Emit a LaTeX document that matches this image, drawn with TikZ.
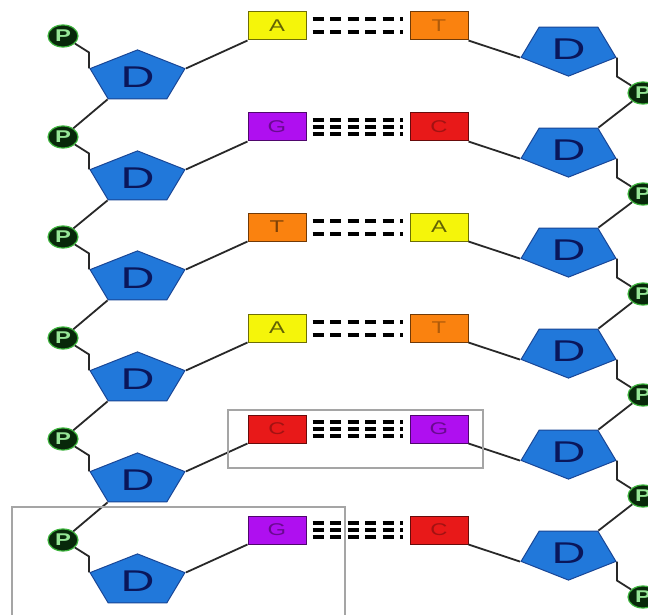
\documentclass[tikz,border=0pt]{standalone}
\usepackage{fontspec}
\newfontfamily\sansf{Liberation Sans}
\usepackage{tikz}
\usetikzlibrary{shapes.geometric, positioning, calc}
\usepackage{xcolor}

\definecolor{sugarblue}{RGB}{33,120,218}
\definecolor{sugaredge}{RGB}{25,70,150}
\definecolor{sugartext}{RGB}{10,22,90}
\definecolor{phosfill}{RGB}{8,40,10}
\definecolor{phosedge}{RGB}{60,180,60}
\definecolor{phostext}{RGB}{150,230,150}
\definecolor{baseY}{RGB}{245,245,10}
\definecolor{baseO}{RGB}{250,130,15}
\definecolor{baseP}{RGB}{175,15,240}
\definecolor{baseR}{RGB}{232,25,25}
\definecolor{framegray}{RGB}{165,165,165}
\definecolor{bondgray}{RGB}{40,40,40}

\newcommand{\wide}[1]{\scalebox{1.4}[1]{#1}}

\tikzset{
  sugar/.style={regular polygon, regular polygon sides=5, minimum size=54.2pt, inner sep=0pt,
    xscale=1.84, transform shape, fill=sugarblue, draw=sugaredge, line width=1pt,
    text=sugartext, font=\sansf\fontsize{30}{30}\selectfont},
  sugarR/.style={sugar, shape border rotate=180},
  phos/.style={ellipse, minimum width=30pt, minimum height=22pt, inner sep=0pt,
    fill=phosfill, draw=phosedge, line width=1.2pt, text=phostext,
    font=\sansf\bfseries\fontsize{17}{17}\selectfont},
  base/.style={rectangle, minimum width=58pt, minimum height=28pt, inner sep=0pt,
    fill=#1, draw=#1!45!black, line width=1pt, font=\sansf\fontsize{17}{17}\selectfont},
  bond/.style={draw=bondgray, line width=1.8pt},
  hbond/.style={draw=black, line width=4pt, dash pattern=on 11pt off 6.5pt},
  frame/.style={draw=framegray, line width=2pt}
}

\begin{document}
\begin{tikzpicture}[x=1pt, y=-1pt]
      \clip (0,0) rectangle (648,615);
      \fill[white] (0,0) rectangle (648,615);

      % left strand
      \node[phos] (LP1) at (63, 36) {\wide{P}};
      \node[phos] (LP2) at (63, 137) {\wide{P}};
      \node[phos] (LP3) at (63, 237) {\wide{P}};
      \node[phos] (LP4) at (63, 338) {\wide{P}};
      \node[phos] (LP5) at (63, 439) {\wide{P}};
      \node[phos] (LP6) at (63, 540) {\wide{P}};
      \node[sugar] (LD1) at (137.5, 77) {\scalebox{0.85}[1]{D}};
      \node[sugar] (LD2) at (137.5, 178) {\scalebox{0.85}[1]{D}};
      \node[sugar] (LD3) at (137.5, 278) {\scalebox{0.85}[1]{D}};
      \node[sugar] (LD4) at (137.5, 379) {\scalebox{0.85}[1]{D}};
      \node[sugar] (LD5) at (137.5, 480) {\scalebox{0.85}[1]{D}};
      \node[sugar] (LD6) at (137.5, 581) {\scalebox{0.85}[1]{D}};

      % right strand
      \node[sugarR] (RD1) at (568.5, 49) {\scalebox{0.85}[1]{D}};
      \node[sugarR] (RD2) at (568.5, 150) {\scalebox{0.85}[1]{D}};
      \node[sugarR] (RD3) at (568.5, 250) {\scalebox{0.85}[1]{D}};
      \node[sugarR] (RD4) at (568.5, 351) {\scalebox{0.85}[1]{D}};
      \node[sugarR] (RD5) at (568.5, 452) {\scalebox{0.85}[1]{D}};
      \node[sugarR] (RD6) at (568.5, 553) {\scalebox{0.85}[1]{D}};
      \node[phos] (RP1) at (643, 93) {\wide{P}};
      \node[phos] (RP2) at (643, 194) {\wide{P}};
      \node[phos] (RP3) at (643, 294) {\wide{P}};
      \node[phos] (RP4) at (643, 395) {\wide{P}};
      \node[phos] (RP5) at (643, 496) {\wide{P}};
      \node[phos] (RP6) at (643, 597) {\wide{P}};

      % bases
      \node[base=baseY, text=baseY!40!black] (L1) at (277, 26) {\wide{A}};
      \node[base=baseO, text=baseO!70!black] (R1) at (439, 26) {\wide{T}};
      \node[base=baseP, text=baseP!60!black] (L2) at (277, 127) {\wide{G}};
      \node[base=baseR, text=baseR!70!black] (R2) at (439, 127) {\wide{C}};
      \node[base=baseO, text=baseO!50!black] (L3) at (277, 227) {\wide{T}};
      \node[base=baseY, text=baseY!40!black] (R3) at (439, 227) {\wide{A}};
      \node[base=baseY, text=baseY!40!black] (L4) at (277, 328) {\wide{A}};
      \node[base=baseO, text=baseO!70!black] (R4) at (439, 328) {\wide{T}};
      \node[base=baseR, text=baseR!70!black] (L5) at (277, 429) {\wide{C}};
      \node[base=baseP, text=baseP!60!black] (R5) at (439, 429) {\wide{G}};
      \node[base=baseP, text=baseP!60!black] (L6) at (277, 530) {\wide{G}};
      \node[base=baseR, text=baseR!70!black] (R6) at (439, 530) {\wide{C}};

      % backbone, left
      \draw[bond] (LP1) -- ([yshift=16pt]LD1.corner 2) -- (LD1.corner 2);
      \draw[bond] (LP2) -- ([yshift=16pt]LD2.corner 2) -- (LD2.corner 2);
      \draw[bond] (LP3) -- ([yshift=16pt]LD3.corner 2) -- (LD3.corner 2);
      \draw[bond] (LP4) -- ([yshift=16pt]LD4.corner 2) -- (LD4.corner 2);
      \draw[bond] (LP5) -- ([yshift=16pt]LD5.corner 2) -- (LD5.corner 2);
      \draw[bond] (LP6) -- ([yshift=16pt]LD6.corner 2) -- (LD6.corner 2);
      \draw[bond] (LD1.corner 3) -- (LP2);
      \draw[bond] (LD2.corner 3) -- (LP3);
      \draw[bond] (LD3.corner 3) -- (LP4);
      \draw[bond] (LD4.corner 3) -- (LP5);
      \draw[bond] (LD5.corner 3) -- (LP6);

      % backbone, right
      \draw[bond] (RD1.corner 2) -- ([yshift=-19pt]RD1.corner 2) -- (RP1);
      \draw[bond] (RD2.corner 2) -- ([yshift=-19pt]RD2.corner 2) -- (RP2);
      \draw[bond] (RD3.corner 2) -- ([yshift=-19pt]RD3.corner 2) -- (RP3);
      \draw[bond] (RD4.corner 2) -- ([yshift=-19pt]RD4.corner 2) -- (RP4);
      \draw[bond] (RD5.corner 2) -- ([yshift=-19pt]RD5.corner 2) -- (RP5);
      \draw[bond] (RD6.corner 2) -- ([yshift=-19pt]RD6.corner 2) -- (RP6);
      \draw[bond] (RP1) -- (RD2.corner 3);
      \draw[bond] (RP2) -- (RD3.corner 3);
      \draw[bond] (RP3) -- (RD4.corner 3);
      \draw[bond] (RP4) -- (RD5.corner 3);
      \draw[bond] (RP5) -- (RD6.corner 3);

      % sugar to base
      \draw[bond] (LD1.corner 5) -- (L1.south west);
      \draw[bond] (LD2.corner 5) -- (L2.south west);
      \draw[bond] (LD3.corner 5) -- (L3.south west);
      \draw[bond] (LD4.corner 5) -- (L4.south west);
      \draw[bond] (LD5.corner 5) -- (L5.south west);
      \draw[bond] (LD6.corner 5) -- (L6.south west);
      \draw[bond] (R1.south east) -- (RD1.corner 5);
      \draw[bond] (R2.south east) -- (RD2.corner 5);
      \draw[bond] (R3.south east) -- (RD3.corner 5);
      \draw[bond] (R4.south east) -- (RD4.corner 5);
      \draw[bond] (R5.south east) -- (RD5.corner 5);
      \draw[bond] (R6.south east) -- (RD6.corner 5);

      % hydrogen bonds
      \draw[hbond] ([xshift=6pt, yshift=6.5pt]L1.east) -- ([xshift=-7pt, yshift=6.5pt]R1.west);
      \draw[hbond] ([xshift=6pt, yshift=-6.5pt]L1.east) -- ([xshift=-7pt, yshift=-6.5pt]R1.west);
      \draw[hbond] ([xshift=6pt, yshift=7pt]L2.east) -- ([xshift=-7pt, yshift=7pt]R2.west);
      \draw[hbond] ([xshift=6pt]L2.east) -- ([xshift=-7pt]R2.west);
      \draw[hbond] ([xshift=6pt, yshift=-7pt]L2.east) -- ([xshift=-7pt, yshift=-7pt]R2.west);
      \draw[hbond] ([xshift=6pt, yshift=6.5pt]L3.east) -- ([xshift=-7pt, yshift=6.5pt]R3.west);
      \draw[hbond] ([xshift=6pt, yshift=-6.5pt]L3.east) -- ([xshift=-7pt, yshift=-6.5pt]R3.west);
      \draw[hbond] ([xshift=6pt, yshift=6.5pt]L4.east) -- ([xshift=-7pt, yshift=6.5pt]R4.west);
      \draw[hbond] ([xshift=6pt, yshift=-6.5pt]L4.east) -- ([xshift=-7pt, yshift=-6.5pt]R4.west);
      \draw[hbond] ([xshift=6pt, yshift=7pt]L5.east) -- ([xshift=-7pt, yshift=7pt]R5.west);
      \draw[hbond] ([xshift=6pt]L5.east) -- ([xshift=-7pt]R5.west);
      \draw[hbond] ([xshift=6pt, yshift=-7pt]L5.east) -- ([xshift=-7pt, yshift=-7pt]R5.west);
      \draw[hbond] ([xshift=6pt, yshift=7pt]L6.east) -- ([xshift=-7pt, yshift=7pt]R6.west);
      \draw[hbond] ([xshift=6pt]L6.east) -- ([xshift=-7pt]R6.west);
      \draw[hbond] ([xshift=6pt, yshift=-7pt]L6.east) -- ([xshift=-7pt, yshift=-7pt]R6.west);

      % highlight frames
      \draw[frame] (228, 410) rectangle (483, 468);
      \draw[frame] (12, 507) rectangle (345, 622);
    \end{tikzpicture}
\end{document}
